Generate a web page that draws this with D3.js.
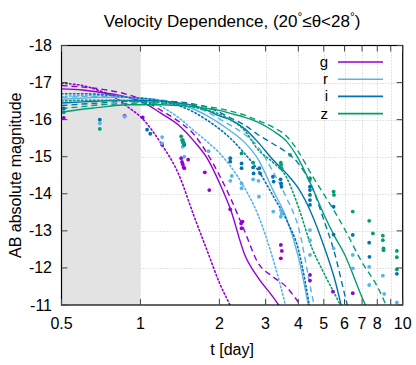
<!DOCTYPE html>
<html>
<head>
<meta charset="utf-8">
<script src="https://cdn.jsdelivr.net/npm/d3@7/dist/d3.min.js"></script>
<style>
  body { margin: 0; background: #fff; }
  text { font-family: "Liberation Sans", Arial, sans-serif; fill: #000; }
</style>
</head>
<body>
<svg id="chart" width="416" height="365"></svg>
<script>
// time grid (days) shared by all model curves
const tGrid = [0.5, 0.6, 0.7, 0.8, 0.9, 1, 1.2, 1.4, 1.6, 1.8, 2, 2.2, 2.5, 2.8, 3.2, 3.6, 4, 4.5, 5, 5.5, 6, 7, 8, 9, 10];

// model magnitudes (null = off the plot)
const gSolid  = [-16.83, -16.80, -16.74, -16.68, -16.60, -16.50, -16.17, -15.85, -15.42, -14.95, -14.30, -13.60, -12.35, -11.75, -11.22, -10.70, null, null, null, null, null, null, null, null, null];
const gDashed = [-16.92, -16.88, -16.83, -16.76, -16.67, -16.56, -16.25, -15.95, -15.60, -15.08, -14.50, -13.90, -12.98, -12.15, -11.76, -11.49, -11.08, -10.60, null, null, null, null, null, null, null];
const gDotted = [-16.98, -16.92, -16.78, -16.60, -16.33, -16.08, -15.35, -14.52, -13.40, -12.45, -11.60, -10.98, -10.00, null, null, null, null, null, null, null, null, null, null, null, null];

const rSolid  = [-16.55, -16.58, -16.60, -16.60, -16.60, -16.58, -16.52, -16.42, -16.28, -16.10, -15.90, -15.70, -15.38, -14.95, -14.10, -13.35, -12.30, -10.50, null, null, null, null, null, null, null];
const rDashed = [-16.60, -16.62, -16.62, -16.62, -16.60, -16.58, -16.53, -16.45, -16.35, -16.20, -16.02, -15.85, -15.60, -15.28, -14.60, -13.90, -13.10, -11.30, -9.80, null, null, null, null, null, null];
const rDotted = [-16.62, -16.65, -16.65, -16.65, -16.60, -16.55, -16.35, -16.05, -15.70, -15.40, -15.10, -14.75, -14.15, -13.45, -12.25, -10.90, -9.50, null, null, null, null, null, null, null, null];

const iSolid  = [-16.45, -16.48, -16.50, -16.52, -16.52, -16.52, -16.50, -16.45, -16.38, -16.25, -16.10, -16.00, -15.75, -15.40, -14.92, -14.55, -14.15, -13.45, -12.60, -11.70, -10.60, null, null, null, null];
const iDashed = [-16.38, -16.42, -16.45, -16.48, -16.50, -16.50, -16.50, -16.48, -16.42, -16.33, -16.20, -16.05, -15.85, -15.60, -15.35, -15.12, -14.82, -14.20, -13.30, -12.40, -11.30, -9.50, null, null, null];
const iDotted = [-16.70, -16.70, -16.68, -16.65, -16.60, -16.58, -16.50, -16.38, -16.20, -15.98, -15.75, -15.50, -15.08, -14.65, -13.95, -13.30, -12.50, -10.60, null, null, null, null, null, null, null];

const zSolid  = [-16.20, -16.28, -16.33, -16.38, -16.40, -16.40, -16.40, -16.38, -16.35, -16.30, -16.25, -16.17, -16.06, -15.93, -15.70, -15.42, -14.95, -14.20, -13.45, -12.85, -12.37, -11.20, -10.30, null, null];
const zDashed = [-16.30, -16.35, -16.40, -16.42, -16.44, -16.45, -16.45, -16.43, -16.40, -16.35, -16.30, -16.23, -16.12, -15.98, -15.80, -15.56, -15.14, -14.51, -13.99, -13.52, -13.05, -12.15, -11.50, -10.70, null];
const zDotted = [-16.50, -16.52, -16.52, -16.52, -16.50, -16.48, -16.45, -16.40, -16.33, -16.25, -16.15, -16.00, -15.70, -15.20, -14.85, -14.45, -13.65, -12.55, -11.87, -11.30, -10.80, null, null, null, null];

// observed points [t, mag]
const gObs = [[0.51, -16.05], [0.87, -16.10], [1.02, -16.06], [1.21, -15.32], [1.43, -14.96], [1.44, -14.86], [1.45, -14.80], [1.46, -14.72], [1.47, -14.69], [1.52, -14.92], [1.76, -14.58], [1.83, -14.10], [2.2, -13.58], [2.42, -13.20], [2.45, -13.25], [2.43, -13.07], [3.43, -12.62], [3.46, -12.46], [3.43, -12.26], [4.43, -11.81], [4.43, -11.66], [5.42, -11.36], [6.45, -11.32]];
const rObs = [[0.70, -15.90], [0.87, -16.08], [1.21, -15.53], [1.21, -15.36], [1.45, -15.27], [1.47, -15.00], [1.82, -15.15], [2.2, -14.35], [2.23, -14.48], [2.43, -14.28], [2.43, -14.15], [2.69, -14.39], [2.82, -14.35], [2.83, -13.92], [3.21, -13.52], [3.43, -13.56], [3.46, -13.47], [3.43, -13.38], [4.43, -13.02], [4.43, -12.75], [4.43, -12.35], [5.45, -12.53], [6.45, -12.35], [6.45, -11.99], [7.45, -12.03], [7.45, -11.54], [8.4, -11.79], [8.5, -11.30], [9.5, -11.07]];
const iObs = [[0.51, -16.30], [0.70, -16.00], [1.06, -15.73], [1.09, -15.62], [1.45, -15.45], [1.46, -15.38], [1.47, -15.32], [2.2, -14.96], [2.2, -14.87], [2.43, -14.82], [2.43, -14.69], [2.69, -14.71], [2.70, -14.55], [2.84, -14.69], [2.86, -14.55], [3.2, -14.46], [3.22, -14.33], [3.42, -14.39], [3.44, -14.28], [3.45, -14.19], [4.43, -14.19], [4.43, -14.10], [4.43, -13.97], [4.43, -13.83], [4.43, -13.70], [5.45, -13.65], [5.45, -12.90], [6.45, -12.89], [7.45, -12.68], [7.47, -12.30], [9.5, -11.84]];
const zObs = [[0.51, -16.20], [0.70, -15.75], [1.43, -15.55], [1.44, -15.45], [1.45, -15.40], [1.46, -15.36], [2.43, -15.09], [2.69, -14.84], [3.43, -14.84], [3.44, -14.78], [3.45, -14.69], [3.72, -15.05], [4.43, -14.42], [4.42, -14.37], [5.45, -14.06], [5.47, -13.97], [6.45, -13.52], [7.45, -13.27], [7.7, -12.93], [8.4, -12.87], [8.4, -12.75], [8.45, -12.53], [8.45, -12.48], [9.5, -12.46], [9.5, -12.29], [9.5, -11.96]];

const bands = ["g", "r", "i", "z"];
const bandColors = ["#9400d3", "#56b4e9", "#0072b2", "#009e73"];
const xTicks = [0.5, 1, 2, 3, 4, 5, 6, 7, 8, 9, 10];
const xTickLabels = ["0.5", "1", "2", "3", "4", "5", "6", "7", "8", "", "10"];
const yTicks = [-18, -17, -16, -15, -14, -13, -12, -11];

const models = [
  { band: 0, dash: "1.5,2.5", cap: "round", mags: gDotted },
  { band: 0, dash: "6,4", cap: "butt", mags: gDashed },
  { band: 0, dash: null, cap: "butt", mags: gSolid },
  { band: 1, dash: "1.5,2.5", cap: "round", mags: rDotted },
  { band: 1, dash: "6,4", cap: "butt", mags: rDashed },
  { band: 1, dash: null, cap: "butt", mags: rSolid },
  { band: 2, dash: "1.5,2.5", cap: "round", mags: iDotted },
  { band: 2, dash: "6,4", cap: "butt", mags: iDashed },
  { band: 2, dash: null, cap: "butt", mags: iSolid },
  { band: 3, dash: "1.5,2.5", cap: "round", mags: zDotted },
  { band: 3, dash: "6,4", cap: "butt", mags: zDashed },
  { band: 3, dash: null, cap: "butt", mags: zSolid }
];
const observations = [gObs, rObs, iObs, zObs];

const plotL = 61.5, plotR = 402.7, plotT = 45.5, plotB = 305;

const x = d3.scaleLog().domain([0.5, 10]).range([plotL, plotR]);
const y = d3.scaleLinear().domain([-18, -11]).range([plotT, plotB]);

const svg = d3.select("#chart");

svg.append("defs").append("clipPath")
    .attr("id", "plotclip")
  .append("rect")
    .attr("x", plotL).attr("y", plotT)
    .attr("width", plotR - plotL).attr("height", plotB - plotT);

// grid
const grid = svg.append("g").attr("stroke", "#c8c8c8").attr("stroke-width", 1).attr("stroke-dasharray", "1,2");
grid.selectAll("line.vx")
    .data(xTicks.slice(1, -1))
    .join("line")
    .attr("x1", d => Math.round(x(d)) + 0.5).attr("x2", d => Math.round(x(d)) + 0.5)
    .attr("y1", plotT).attr("y2", plotB);
grid.selectAll("line.hy")
    .data(yTicks.slice(1, -1))
    .join("line")
    .attr("x1", plotL).attr("x2", plotR)
    .attr("y1", d => Math.round(y(d)) + 0.5).attr("y2", d => Math.round(y(d)) + 0.5);

// shaded early-time region
svg.append("rect")
    .attr("x", x(0.5)).attr("y", plotT)
    .attr("width", x(1) - x(0.5)).attr("height", plotB - plotT)
    .attr("fill", "#e3e3e3");

// model curves
const plot = svg.append("g").attr("clip-path", "url(#plotclip)");
const line = d3.line()
    .defined(d => d[1] != null)
    .x(d => x(d[0]))
    .y(d => y(d[1]))
    .curve(d3.curveMonotoneX);

plot.selectAll("path.model")
    .data(models)
    .join("path")
    .attr("class", "model")
    .attr("d", d => line(tGrid.map((t, k) => [t, d.mags[k]])))
    .attr("fill", "none")
    .attr("stroke", d => bandColors[d.band])
    .attr("stroke-width", d => d.cap === "round" ? 1.6 : 1.4)
    .attr("stroke-linecap", d => d.cap)
    .attr("stroke-dasharray", d => d.dash);

// observed points
observations.forEach((pts, b) => {
  plot.append("g").selectAll("circle")
      .data(pts)
      .join("circle")
      .attr("cx", d => x(d[0]))
      .attr("cy", d => y(d[1]))
      .attr("r", 1.9)
      .attr("fill", bandColors[b]);
});

// frame
svg.append("rect")
    .attr("x", plotL).attr("y", plotT)
    .attr("width", plotR - plotL).attr("height", plotB - plotT)
    .attr("fill", "none").attr("stroke", "#000").attr("stroke-width", 1.2);

// ticks (inward, mirrored)
const ticks = svg.append("g").attr("stroke", "#444").attr("stroke-width", 1);
ticks.selectAll("line.bt").data(xTicks).join("line").attr("class", "bt")
    .attr("x1", d => x(d)).attr("x2", d => x(d))
    .attr("y1", plotB).attr("y2", plotB - 6);
ticks.selectAll("line.tt").data(xTicks).join("line").attr("class", "tt")
    .attr("x1", d => x(d)).attr("x2", d => x(d))
    .attr("y1", plotT).attr("y2", plotT + 6);
ticks.selectAll("line.lt").data(yTicks).join("line").attr("class", "lt")
    .attr("x1", plotL).attr("x2", plotL + 6)
    .attr("y1", d => y(d)).attr("y2", d => y(d));
ticks.selectAll("line.rt").data(yTicks).join("line").attr("class", "rt")
    .attr("x1", plotR).attr("x2", plotR - 6)
    .attr("y1", d => y(d)).attr("y2", d => y(d));

// tick labels
svg.selectAll("text.xl").data(xTicks).join("text").attr("class", "xl")
    .attr("x", d => x(d))
    .attr("y", 329)
    .attr("text-anchor", "middle")
    .attr("font-size", 16)
    .text((d, k) => xTickLabels[k]);

svg.selectAll("text.yl").data(yTicks).join("text").attr("class", "yl")
    .attr("x", 52)
    .attr("y", d => y(d) + 5.5)
    .attr("text-anchor", "end")
    .attr("font-size", 16)
    .text(d => d);

// axis labels
svg.append("text")
    .attr("x", (plotL + plotR) / 2)
    .attr("y", 355)
    .attr("text-anchor", "middle")
    .attr("font-size", 16)
    .text("t [day]");

svg.append("text")
    .attr("transform", `translate(21,${(plotT + plotB) / 2}) rotate(-90)`)
    .attr("text-anchor", "middle")
    .attr("font-size", 16)
    .text("AB absolute magnitude");

// title
const title = svg.append("text")
    .attr("x", (plotL + plotR) / 2)
    .attr("y", 27)
    .attr("text-anchor", "middle")
    .attr("font-size", 17);
title.append("tspan").text("Velocity Dependence, (20");
title.append("tspan").attr("font-size", 12).attr("dy", -6).text("°");
title.append("tspan").attr("dy", 6).text("≤θ<28");
title.append("tspan").attr("font-size", 12).attr("dy", -6).text("°");
title.append("tspan").attr("dy", 6).text(")");

// legend
const legend = svg.append("g");
bands.forEach((b, k) => {
  const ly = 62 + k * 17.2;
  legend.append("text")
      .attr("x", 328).attr("y", ly + 5)
      .attr("text-anchor", "end")
      .attr("font-size", 15)
      .text(b);
  legend.append("line")
      .attr("x1", 338).attr("x2", 383)
      .attr("y1", ly).attr("y2", ly)
      .attr("stroke", bandColors[k])
      .attr("stroke-width", 1.6);
});
</script>
</body>
</html>
